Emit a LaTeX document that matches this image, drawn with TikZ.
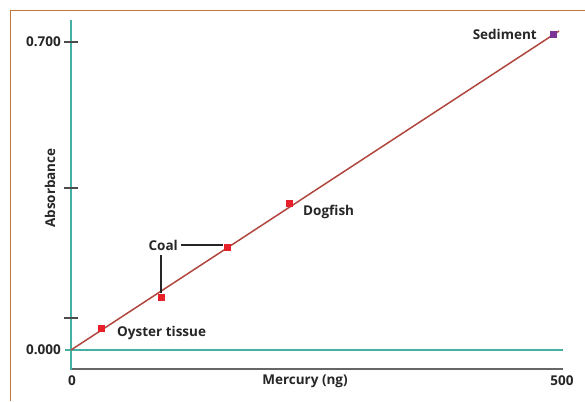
\documentclass[tikz,border=0pt]{standalone}
\usepackage{fontspec}
\setmainfont{Open Sans}
\begin{document}
\begin{tikzpicture}[x=1pt,y=-1pt,
  lbl/.style={font=\bfseries\fontsize{13.5}{15}\selectfont, text=black!85, inner sep=1pt},
  pt/.style={fill=ptred, minimum size=7pt, inner sep=0pt},
  tealline/.style={draw=axteal, line width=1.5pt},
  tick/.style={draw=black!70, line width=1.2pt},
  conn/.style={draw=black!85, line width=1.4pt}]
\definecolor{frame}{HTML}{C27540}
\definecolor{axteal}{HTML}{45AFA4}
\definecolor{ptred}{HTML}{E8202A}
\definecolor{fitline}{HTML}{B0473E}
\definecolor{sedpurple}{HTML}{7B3596}
\useasboundingbox (0,0) rectangle (585,401);
\draw[frame, line width=1pt] (10,401) -- (10,11) -- (585,11);
% axes
\draw[draw=black!60, line width=1.8pt] (71,369) -- (563,369);
\draw[tealline] (71,20) -- (71,370);
\draw[tealline] (65,350) -- (563,350);
\foreach \yy in {42,188,318} \draw[tick] (64,\yy) -- (78,\yy);
% labels
\node[lbl, anchor=east] (y7) at (62,42) {0.700};
\node[lbl, anchor=east] (y0) at (62,350) {0.000};
\node[lbl] (x0) at (72,381) {0};
\node[lbl] (x5) at (562,381) {500};
\node[lbl] (xl) at (305,381) {Mercury (ng)};
\node[lbl, rotate=90] (yl) at (50,188) {Absorbance};
% regression line
\coordinate (o) at (71,350);
\coordinate (e) at (559,31);
\draw[draw=fitline, line width=1.5pt] (o) -- (e);
% points
\node[pt] (p1) at (101,328) {};
\node[pt] (p2) at (161,297) {};
\node[pt] (p3) at (227,247) {};
\node[pt] (p4) at (289,203) {};
\node[pt, fill=sedpurple] (p5) at (553,35) {};
\node[lbl, anchor=west] (oy) at (116,333) {Oyster tissue};
\node[lbl, anchor=west] (dg) at (302,212) {Dogfish};
\node[lbl, anchor=east] (sd) at (538,34) {Sediment};
\node[lbl, anchor=east] (cl) at (179,245) {Coal};
\draw[conn] (cl.east) ++(2,0) -- (cl.east -| p3.west);
\draw[conn] (161,255) -- (p2.north);
\end{tikzpicture}
\end{document}
